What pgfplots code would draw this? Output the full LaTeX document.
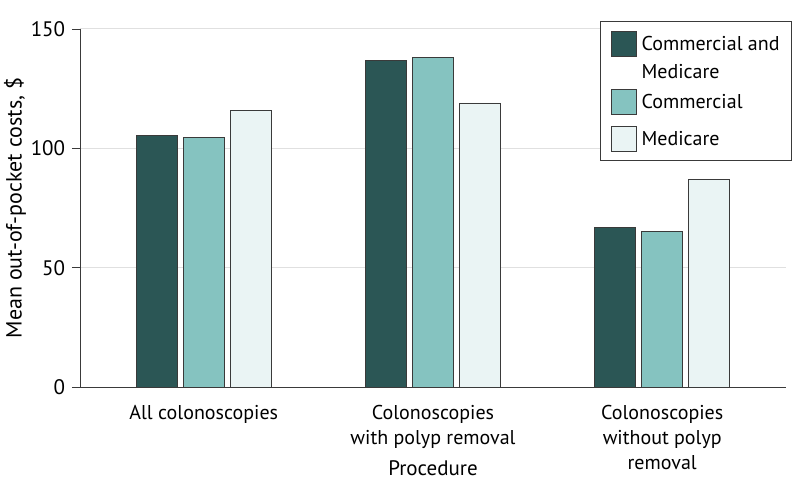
\documentclass[border=0pt]{standalone}
\usepackage{fontspec}
\setmainfont{PT Sans}
\usepackage{pgfplots}
\pgfplotsset{compat=1.18}
\usetikzlibrary{calc}
\definecolor{cDark}{HTML}{2B5655}
\definecolor{cMid}{HTML}{85C3C0}
\definecolor{cLight}{HTML}{EAF4F4}
\definecolor{axgray}{HTML}{3A3A3A}
\newcommand{\myfont}{\fontsize{20bp}{25bp}\selectfont}
\begin{document}
\myfont
\begin{tikzpicture}
\begin{axis}[
  name=ax,
  scale only axis, width=706bp, height=358bp,
  xmin=-0.54, xmax=2.54, ymin=0, ymax=150,
  axis lines*=left,
  axis line style={draw=axgray, line width=0.9pt},
  ytick={0,50,100,150},
  xtick={0,1,2},
  xticklabels={All colonoscopies, Colonoscopies\\with polyp removal, Colonoscopies\\without polyp\\removal},
  xticklabel style={align=center, anchor=north, yshift=-3bp, font=\fontsize{20bp}{25bp}\selectfont},
  yticklabel style={font=\fontsize{21bp}{25bp}\selectfont},
  major x tick style={draw=none},
  major y tick style={draw=axgray, line width=0.9pt},
  tick align=outside, major tick length=8bp,
  ymajorgrids, grid style={draw=black!12, line width=1pt},
  /pgf/number format/assume math mode=true,
  ylabel={Mean out-of-pocket costs, \$},
  ylabel style={at={(axis description cs:-0.092,0.5)}, anchor=center, font=\fontsize{22bp}{26bp}\selectfont},
  xlabel={Procedure},
  xlabel style={at={(axis description cs:0.5,0)}, anchor=center, yshift=-81bp, font=\fontsize{21bp}{25bp}\selectfont},
  legend style={at={(1.0085,1.022)}, anchor=north east, draw=axgray, line width=0.9pt,
    inner xsep=10bp, inner ysep=9bp, row sep=6bp, column sep=3bp,
    cells={anchor=base west, inner ysep=0pt, text height=14bp, text depth=4bp}, font=\myfont},
  legend image code/.code={\draw[#1, draw=axgray, line width=0.9pt] (0bp,-6bp) rectangle (25bp,19bp);},
]
\addplot[ybar, bar width=0.18, bar shift=-0.205, fill=cDark, draw=axgray, line width=0.9pt] coordinates {(0,105.5) (1,137) (2,67)};
\addlegendentry{Commercial and}
\addlegendimage{empty legend}
\addlegendentry{Medicare}
\addplot[ybar, bar width=0.18, bar shift=0, fill=cMid, draw=axgray, line width=0.9pt] coordinates {(0,104.5) (1,138) (2,65)};
\addlegendentry[text depth=9bp]{Commercial}
\addplot[ybar, bar width=0.18, bar shift=0.205, fill=cLight, draw=axgray, line width=0.9pt] coordinates {(0,116) (1,119) (2,87)};
\addlegendentry{Medicare}
\end{axis}
\pgfresetboundingbox
\path ($(ax.south west)+(-80bp,-109bp)$) rectangle ($(ax.north east)+(8bp,29bp)$);
\end{tikzpicture}
\end{document}
